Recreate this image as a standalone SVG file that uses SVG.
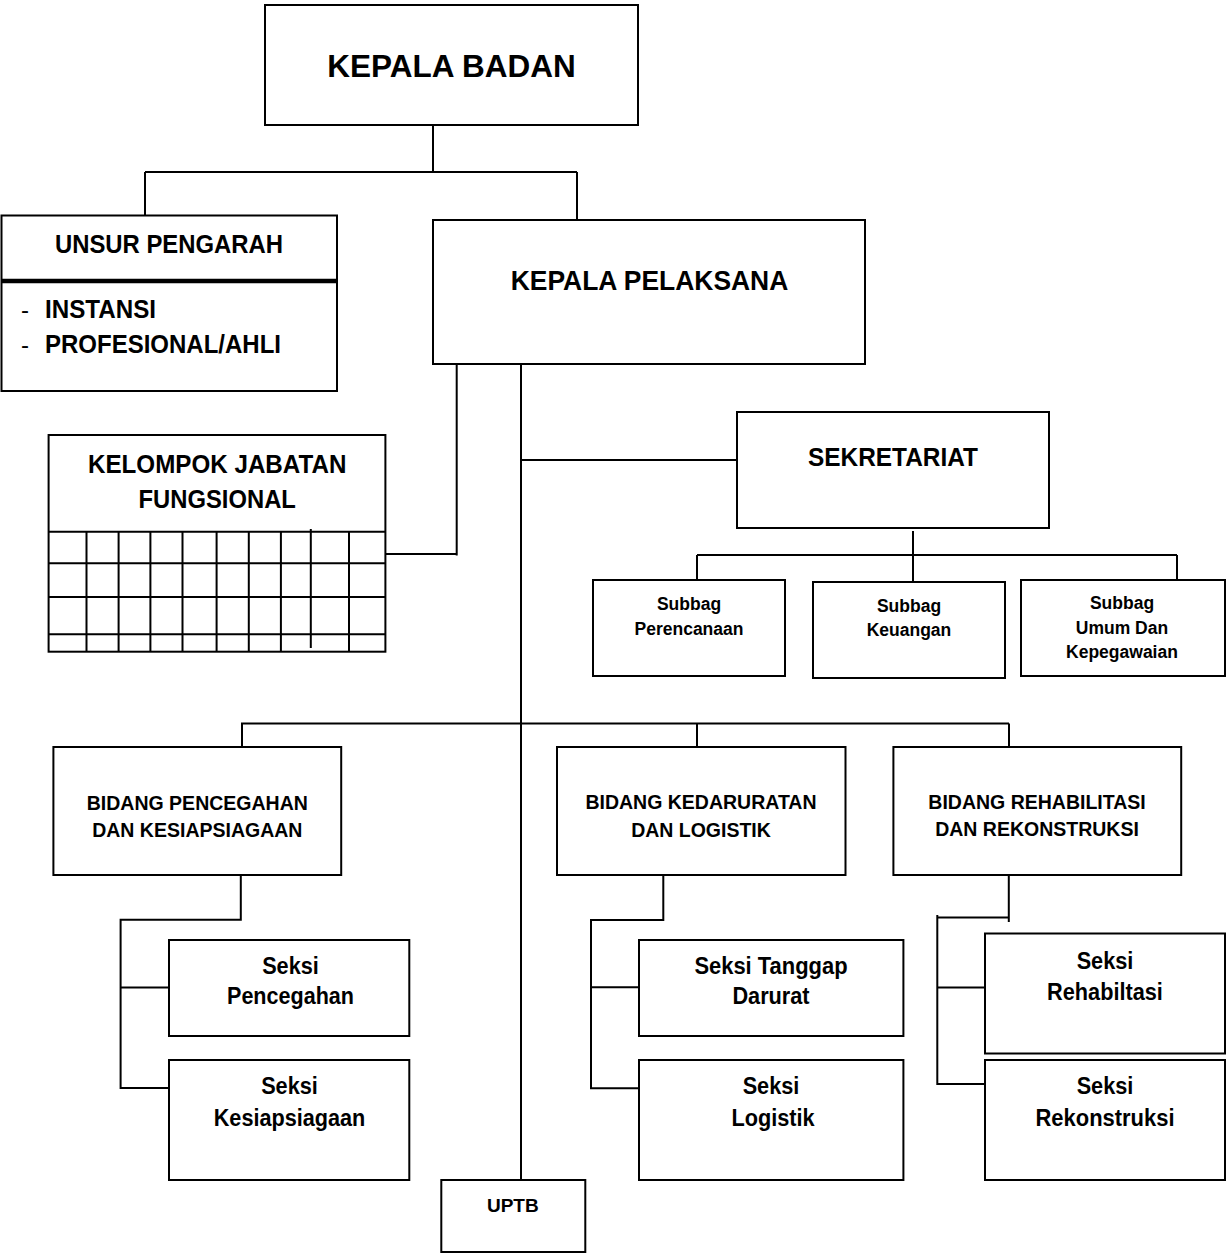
<svg xmlns="http://www.w3.org/2000/svg" width="1226" height="1253" viewBox="0 0 1226 1253">
<style>
.b{fill:#fff;stroke:#000;stroke-width:2}
.c{fill:none;stroke:#000;stroke-width:2}
text{font-family:"Liberation Sans",Arial,sans-serif;font-weight:bold;fill:#000;text-anchor:middle}
.l{text-anchor:start}
.n{font-weight:normal}
.s175{font-size:17.5px}
.s195{font-size:19.5px}
.s23{font-size:23.5px}
.s24{font-size:24px}
.s26{font-size:26px}
.s27{font-size:26.5px}
</style>
<rect width="1226" height="1253" fill="#fff"/>
<g id="connectors" class="c">
<path d="M433 125V172M145 172H577M145 172V220M577 172V220"/>
<path d="M456.7 364V555.5M385.4 554H456.7"/>
<path d="M521 364V1180"/>
<path d="M521 460H737"/>
<path d="M913 531V582M697 555H1177M697 555V580M1177 555V580"/>
<path d="M241 723.5H1009M242 723.5V747M697 723.5V747M1009 723.5V747"/>
<path d="M240.8 872V919.8H120.6V1088H169M120.6 987.5H169"/>
<path d="M663.3 872.7V920H591V1088.3H639M591 987.3H639"/>
<path d="M1008.8 873.5V922M937.3 917.6H1008.8M937.3 915V1084H985M937.3 987.5H985"/>
</g>
<g id="kepala-badan">
<rect class="b" x="265" y="5" width="373" height="120"/>
<text x="451.5" y="77.3" style="font-size:31.5px">KEPALA BADAN</text>
</g>
<g id="unsur-pengarah">
<rect class="b" x="1.5" y="215.5" width="335.5" height="175.5"/>
<line x1="1.5" y1="281" x2="337" y2="281" stroke="#000" stroke-width="4.5"/>
<text class="s26" x="169" y="253.3" textLength="228" lengthAdjust="spacingAndGlyphs">UNSUR PENGARAH</text>
<text class="l n s24" x="21" y="318">-</text>
<text class="l s26" x="45" y="318" textLength="111" lengthAdjust="spacingAndGlyphs">INSTANSI</text>
<text class="l n s24" x="21" y="352.5">-</text>
<text class="l s26" x="45" y="352.5" textLength="236" lengthAdjust="spacingAndGlyphs">PROFESIONAL/AHLI</text>
</g>
<g id="kepala-pelaksana">
<rect class="b" x="433" y="220" width="432" height="144"/>
<text x="649.5" y="290" style="font-size:28.5px" textLength="277.6" lengthAdjust="spacingAndGlyphs">KEPALA PELAKSANA</text>
</g>
<g id="kelompok-jabatan-fungsional">
<rect class="b" x="48.6" y="435" width="336.8" height="216.7"/>
<path class="c" d="M48.6 531.7H385.4M48.6 563.3H385.4M48.6 597H385.4M48.6 634.3H385.4M86.5 531.7V651.7M118.6 531.7V651.7M150.4 531.7V651.7M182.5 531.7V651.7M216.6 531.7V651.7M248.8 531.7V651.7M280.9 531.7V651.7M310.8 529V648M349 531.7V651.7"/>
<text class="s27" x="217.2" y="473.3" textLength="258.4" lengthAdjust="spacingAndGlyphs">KELOMPOK JABATAN</text>
<text class="s27" x="217.2" y="507.7" textLength="157.3" lengthAdjust="spacingAndGlyphs">FUNGSIONAL</text>
</g>
<g id="sekretariat">
<rect class="b" x="737" y="412" width="312" height="116"/>
<text class="s27" x="893" y="465.7" textLength="170" lengthAdjust="spacingAndGlyphs">SEKRETARIAT</text>
</g>
<g id="subbag-perencanaan">
<rect class="b" x="593" y="580" width="192" height="96"/>
<text class="s175" x="689" y="610">Subbag</text>
<text class="s175" x="689" y="635">Perencanaan</text>
</g>
<g id="subbag-keuangan">
<rect class="b" x="813" y="582" width="192" height="96"/>
<text class="s175" x="909" y="611.7">Subbag</text>
<text class="s175" x="909" y="636">Keuangan</text>
</g>
<g id="subbag-umum">
<rect class="b" x="1021" y="580" width="204" height="96"/>
<text class="s175" x="1122" y="609.3">Subbag</text>
<text class="s175" x="1122" y="634.3">Umum Dan</text>
<text class="s175" x="1122" y="658.3">Kepegawaian</text>
</g>
<g id="bidang-pencegahan">
<rect class="b" x="53.4" y="747" width="287.8" height="128"/>
<text class="s195" x="197.3" y="810">BIDANG PENCEGAHAN</text>
<text class="s195" x="197.3" y="837">DAN KESIAPSIAGAAN</text>
</g>
<g id="bidang-kedaruratan">
<rect class="b" x="557" y="747" width="288.5" height="128"/>
<text class="s195" x="701" y="809">BIDANG KEDARURATAN</text>
<text class="s195" x="701" y="836.5">DAN LOGISTIK</text>
</g>
<g id="bidang-rehabilitasi">
<rect class="b" x="893.4" y="747" width="287.8" height="128"/>
<text class="s195" x="1037" y="808.5">BIDANG REHABILITASI</text>
<text class="s195" x="1037" y="836">DAN REKONSTRUKSI</text>
</g>
<g id="seksi-pencegahan">
<rect class="b" x="169" y="940" width="240.3" height="96"/>
<text class="s23" x="290.5" y="974.4" textLength="56.7" lengthAdjust="spacingAndGlyphs">Seksi</text>
<text class="s23" x="290.5" y="1004" textLength="127" lengthAdjust="spacingAndGlyphs">Pencegahan</text>
</g>
<g id="seksi-kesiapsiagaan">
<rect class="b" x="169" y="1060" width="240.3" height="120"/>
<text class="s23" x="289.5" y="1094" textLength="56.7" lengthAdjust="spacingAndGlyphs">Seksi</text>
<text class="s23" x="289.5" y="1125.8" textLength="151.5" lengthAdjust="spacingAndGlyphs">Kesiapsiagaan</text>
</g>
<g id="seksi-tanggap-darurat">
<rect class="b" x="639" y="940" width="264.4" height="96"/>
<text class="s23" x="771" y="974.4" textLength="153.2" lengthAdjust="spacingAndGlyphs">Seksi Tanggap</text>
<text class="s23" x="771" y="1004" textLength="77.2" lengthAdjust="spacingAndGlyphs">Darurat</text>
</g>
<g id="seksi-logistik">
<rect class="b" x="639" y="1060" width="264.4" height="120"/>
<text class="s23" x="771" y="1094" textLength="56.7" lengthAdjust="spacingAndGlyphs">Seksi</text>
<text class="s23" x="773" y="1125.8" textLength="83.2" lengthAdjust="spacingAndGlyphs">Logistik</text>
</g>
<g id="seksi-rehabiltasi">
<rect class="b" x="985" y="933.5" width="240" height="120"/>
<text class="s23" x="1105" y="968.8" textLength="56.7" lengthAdjust="spacingAndGlyphs">Seksi</text>
<text class="s23" x="1105" y="999.8" textLength="115.8" lengthAdjust="spacingAndGlyphs">Rehabiltasi</text>
</g>
<g id="seksi-rekonstruksi">
<rect class="b" x="985" y="1060" width="240" height="120"/>
<text class="s23" x="1105" y="1094" textLength="56.7" lengthAdjust="spacingAndGlyphs">Seksi</text>
<text class="s23" x="1105" y="1125.8" textLength="139" lengthAdjust="spacingAndGlyphs">Rekonstruksi</text>
</g>
<g id="uptb">
<rect class="b" x="441.3" y="1180" width="144" height="72"/>
<text x="512.8" y="1212.2" style="font-size:19px">UPTB</text>
</g>
</svg>
